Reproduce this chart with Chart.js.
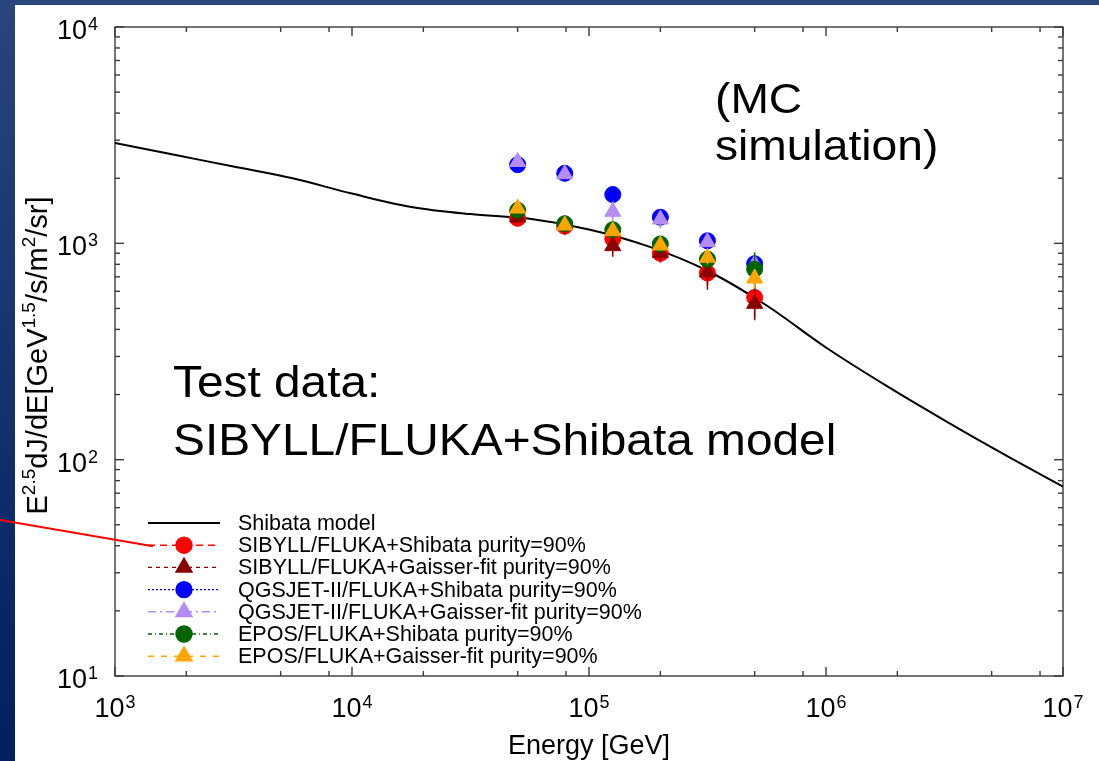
<!DOCTYPE html>
<html>
<head>
<meta charset="utf-8">
<script src="https://cdn.jsdelivr.net/npm/chart.js@4.4.1/dist/chart.umd.min.js"></script>
<style>
    html, body { margin: 0; padding: 0; overflow: hidden; }
    #wrap { width: 1099px; height: 761px; position: relative; }
</style>
</head>
<body>
<div id="wrap"><canvas id="flux"></canvas></div>
<script>
// Energy bins of the reconstructed spectra [GeV]
const energyBins = [5.0e4, 7.9e4, 1.26e5, 2.0e5, 3.16e5, 5.0e5];

// Shibata model curve, E^2.5 dJ/dE
const modelEnergy = [1e3, 1.78e3, 3.16e3, 5.62e3, 1e4, 1.78e4, 3.16e4, 5.62e4, 1e5, 1.78e5, 3.16e5, 5.62e5, 1e6, 1.78e6, 3.16e6, 5.62e6, 1e7];
const modelFlux = [2909, 2566, 2265, 1998, 1698, 1473, 1365, 1298, 1159, 968, 747, 516, 330, 221, 152, 106, 75];

// Unfolded spectra (purity = 90%)
const sibyllShibata = [1305, 1200, 1049, 899, 729, 562];
const sibyllShibataErr = [30, 40, 60, 60, 90, 110];
const sibyllGaisser = [1320, 1215, 972, 905, 735, 526];
const sibyllGaisserErr = [40, 120, 105, 90, 125, 85];
const qgsjetShibata = [2310, 2107, 1681, 1320, 1027, 805];
const qgsjetShibataErr = [50, 40, 50, 40, 30, 40];
const qgsjetGaisser = [2380, 2090, 1401, 1291, 1014, 800];
const qgsjetGaisserErr = [60, 50, 160, 120, 50, 60];
const eposShibata = [1421, 1232, 1156, 993, 844, 759];
const eposShibataErr = [50, 40, 60, 50, 60, 150];
const eposGaisser = [1450, 1211, 1140, 979, 859, 689];
const eposGaisserErr = [50, 40, 60, 50, 60, 70];

const FONT = '"Liberation Sans", Arial, Helvetica, sans-serif';

const points = (vals) => vals.map((v, i) => ({x: energyBins[i], y: v}));

function series(label, vals, errs, color, style, dash, order) {
    return {
        type: 'scatter',
        label: label,
        data: points(vals),
        errors: errs,
        legendDash: dash,
        showLine: false,
        pointStyle: style,
        pointRadius: style === 'triangle' ? 9.3 : 8,
        pointBorderWidth: 1,
        backgroundColor: color,
        borderColor: color,
        order: order,
    };
}

function logTicks(min, max, minors) {
    const ticks = [];
    const lo = Math.round(Math.log10(min));
    const hi = Math.round(Math.log10(max));
    for (let e = lo; e <= hi; e++) {
        const base = Math.pow(10, e);
        ticks.push({value: base, major: true, exp: e});
        if (e < hi) {
            minors.forEach(m => ticks.push({value: m * base, major: false}));
        }
    }
    return ticks;
}

function line(ctx, x1, y1, x2, y2) {
    ctx.beginPath();
    ctx.moveTo(x1, y1);
    ctx.lineTo(x2, y2);
    ctx.stroke();
}

// "10" with a raised exponent
function drawPower(ctx, exp, x, y, align) {
    const size = 27, sup = 18;
    ctx.font = size + 'px ' + FONT;
    const wBase = ctx.measureText('10').width;
    ctx.font = sup + 'px ' + FONT;
    const wExp = ctx.measureText(String(exp)).width;
    const total = wBase + 1 + wExp;
    const left = align === 'center' ? x - total / 2 : x - total;
    ctx.textAlign = 'left';
    ctx.textBaseline = 'alphabetic';
    ctx.font = size + 'px ' + FONT;
    ctx.fillText('10', left, y);
    ctx.font = sup + 'px ' + FONT;
    ctx.fillText(String(exp), left + wBase + 1, y - 9);
}

// text made of normal and superscript pieces, centred on x
function drawRich(ctx, parts, x, y, size, sup) {
    ctx.textAlign = 'left';
    ctx.textBaseline = 'alphabetic';
    let total = 0;
    parts.forEach(p => {
        ctx.font = (p[1] ? sup : size) + 'px ' + FONT;
        total += ctx.measureText(p[0]).width;
    });
    let cx = x - total / 2;
    parts.forEach(p => {
        ctx.font = (p[1] ? sup : size) + 'px ' + FONT;
        ctx.fillText(p[0], cx, p[1] ? y - size * 0.4 : y);
        cx += ctx.measureText(p[0]).width;
    });
}

function wideText(ctx, text, x, y, size, sx) {
    ctx.save();
    ctx.font = size + 'px ' + FONT;
    ctx.textAlign = 'left';
    ctx.textBaseline = 'alphabetic';
    ctx.translate(x, y);
    ctx.scale(sx, 1);
    ctx.fillText(text, 0, 0);
    ctx.restore();
}

const slidePlugin = {
    id: 'slide',
    beforeDraw(chart) {
        const ctx = chart.ctx;
        const w = chart.width, h = chart.height;
        ctx.save();
        const g = ctx.createLinearGradient(0, 0, 0, h);
        g.addColorStop(0, '#26467c');
        g.addColorStop(1, '#00205e');
        ctx.fillStyle = g;
        ctx.fillRect(0, 0, w, h);
        ctx.fillStyle = '#ffffff';
        ctx.fillRect(15, 5, w - 15, h - 5);
        ctx.restore();
    },
};

const framePlugin = {
    id: 'frame',
    beforeDatasetsDraw(chart) {
        const ctx = chart.ctx;
        const {left, right, top, bottom} = chart.chartArea;
        const xs = chart.scales.x, ys = chart.scales.y;
        ctx.save();
        ctx.strokeStyle = '#3a3a3a';
        ctx.lineWidth = 1.4;
        ctx.strokeRect(left, top, right - left, bottom - top);
        xs.ticks.forEach(t => {
            const px = xs.getPixelForValue(t.value);
            const len = t.major ? 9 : 5;
            line(ctx, px, bottom, px, bottom - len);
            line(ctx, px, top, px, top + len);
        });
        ys.ticks.forEach(t => {
            const py = ys.getPixelForValue(t.value);
            const len = t.major ? 9 : 5;
            line(ctx, left, py, left + len, py);
            line(ctx, right, py, right - len, py);
        });
        ctx.restore();
    },
    beforeDatasetDraw(chart, args) {
        const ds = chart.data.datasets[args.index];
        if (!ds.errors) return;
        const ctx = chart.ctx;
        const xs = chart.scales.x, ys = chart.scales.y;
        ctx.save();
        ctx.strokeStyle = ds.borderColor;
        ctx.lineWidth = 1.5;
        ds.data.forEach((p, j) => {
            const e = ds.errors[j];
            const px = xs.getPixelForValue(p.x);
            line(ctx, px, ys.getPixelForValue(p.y - e), px, ys.getPixelForValue(p.y + e));
        });
        ctx.restore();
    },
    afterDraw(chart) {
        const ctx = chart.ctx;
        const {left, bottom} = chart.chartArea;
        const xs = chart.scales.x, ys = chart.scales.y;
        ctx.save();
        ctx.fillStyle = '#000';

        // tick labels
        xs.ticks.filter(t => t.major).forEach(t => {
            drawPower(ctx, t.exp, xs.getPixelForValue(t.value), bottom + 41, 'center');
        });
        ys.ticks.filter(t => t.major).forEach(t => {
            drawPower(ctx, t.exp, left - 17, ys.getPixelForValue(t.value) + 12, 'right');
        });

        // axis titles
        drawRich(ctx, [['Energy [GeV]', false]], (xs.left + xs.right) / 2, 754, 27, 18);
        ctx.save();
        ctx.translate(47, (ys.top + ys.bottom) / 2 + 4);
        ctx.rotate(-Math.PI / 2);
        drawRich(ctx, [['E', false], ['2.5', true], ['dJ/dE[GeV', false], ['1.5', true],
            ['/s/m', false], ['2', true], ['/sr]', false]], 0, 0, 29, 19);
        ctx.restore();

        // key
        const keyX = 148, keyY = 523, rowH = 22.2;
        chart.data.datasets.forEach((ds, i) => {
            const y = keyY + i * rowH;
            ctx.strokeStyle = ds.borderColor;
            ctx.lineWidth = ds.legendDash ? 1.4 : 2;
            ctx.setLineDash(ds.legendDash || []);
            line(ctx, keyX, y, keyX + 72, y);
            ctx.setLineDash([]);
            if (ds.pointStyle && ds.pointRadius > 0) {
                ctx.fillStyle = ds.backgroundColor;
                Chart.helpers.drawPoint(ctx, {
                    pointStyle: ds.pointStyle, radius: ds.pointRadius, rotation: 0, borderWidth: 1,
                }, keyX + 36, y);
            }
            ctx.fillStyle = '#000';
            ctx.font = '21.5px ' + FONT;
            ctx.textAlign = 'left';
            ctx.textBaseline = 'middle';
            ctx.fillText(ds.label, keyX + 90, y + 1);
        });

        // slide notes
        ctx.fillStyle = '#000';
        wideText(ctx, '(MC', 715, 113, 42, 1.1);
        wideText(ctx, 'simulation)', 715, 160, 42, 1.1);
        wideText(ctx, 'Test data:', 173, 397, 44, 1.087);
        wideText(ctx, 'SIBYLL/FLUKA+Shibata model', 173, 455, 44, 1.087);

        // pointer to the test-data entry
        ctx.strokeStyle = '#ff0000';
        ctx.lineWidth = 2;
        line(ctx, 0, 520, keyX + 5, keyY + rowH + 1);
        ctx.restore();
    },
};

const ctx = document.getElementById('flux');
const fluxChart = new Chart(ctx, {
    data: {
        datasets: [
            {
                type: 'line',
                label: 'Shibata model',
                data: modelEnergy.map((e, i) => ({x: e, y: modelFlux[i]})),
                borderColor: '#000000',
                backgroundColor: '#000000',
                borderWidth: 2,
                pointRadius: 0,
                cubicInterpolationMode: 'monotone',
                order: 10,
            },
            series('SIBYLL/FLUKA+Shibata purity=90%', sibyllShibata, sibyllShibataErr, '#ff0000', 'circle', [7, 5], 6),
            series('SIBYLL/FLUKA+Gaisser-fit purity=90%', sibyllGaisser, sibyllGaisserErr, '#8b0000', 'triangle', [4, 4], 5),
            series('QGSJET-II/FLUKA+Shibata purity=90%', qgsjetShibata, qgsjetShibataErr, '#0000ff', 'circle', [2, 2], 4),
            series('QGSJET-II/FLUKA+Gaisser-fit purity=90%', qgsjetGaisser, qgsjetGaisserErr, '#b48cf4', 'triangle', [8, 4, 2, 4], 3),
            series('EPOS/FLUKA+Shibata purity=90%', eposShibata, eposShibataErr, '#006400', 'circle', [4, 3, 1, 3], 2),
            series('EPOS/FLUKA+Gaisser-fit purity=90%', eposGaisser, eposGaisserErr, '#ffa500', 'triangle', [6, 7], 1),
        ]
    },
    options: {
        responsive: true,
        maintainAspectRatio: false,
        animation: false,
        layout: {
            padding: {left: 0, top: 27, right: 36, bottom: 0}
        },
        plugins: {
            legend: {display: false},
            tooltip: {enabled: false},
        },
        scales: {
            x: {
                type: 'logarithmic',
                min: 1e3,
                max: 1e7,
                grid: {display: false},
                border: {display: false},
                ticks: {display: false},
                afterBuildTicks: (scale) => { scale.ticks = logTicks(scale.min, scale.max, [2, 5, 8]); },
                afterFit: (scale) => { scale.height = 85; },
            },
            y: {
                type: 'logarithmic',
                min: 10,
                max: 1e4,
                grid: {display: false},
                border: {display: false},
                ticks: {display: false},
                afterBuildTicks: (scale) => { scale.ticks = logTicks(scale.min, scale.max, [2, 3, 4, 5, 6, 7, 8, 9]); },
                afterFit: (scale) => { scale.width = 115; },
            },
        },
    },
    plugins: [slidePlugin, framePlugin],
});
</script>
</body>
</html>
